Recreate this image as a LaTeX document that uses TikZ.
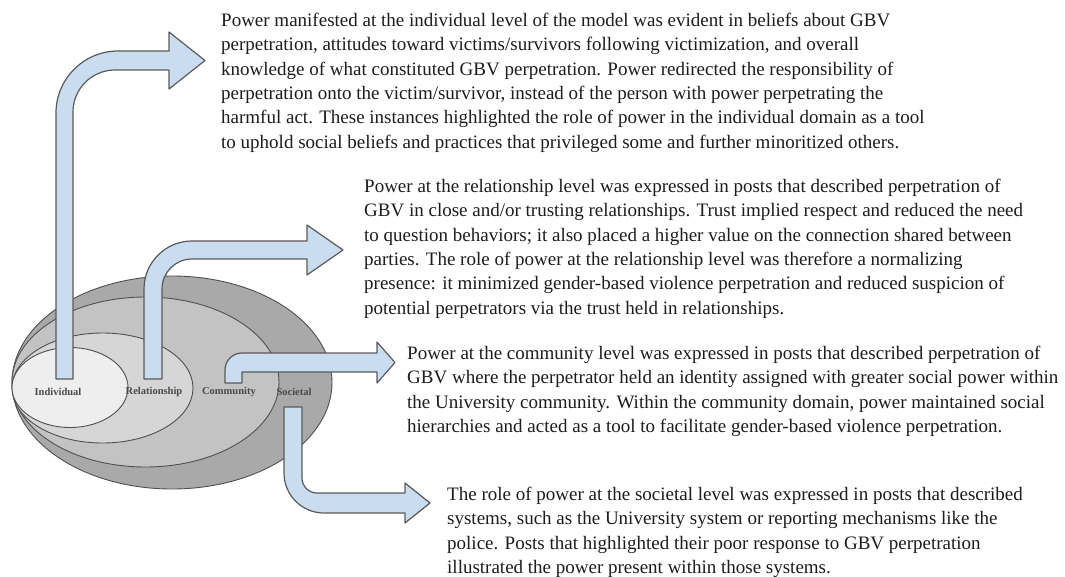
\documentclass[tikz,border=0pt]{standalone}
\usepackage{fontspec}
\setmainfont{Liberation Serif}
\definecolor{arrowblue}{HTML}{C9DCF0}
\definecolor{arrowline}{HTML}{5A5A5A}
\definecolor{ringline}{HTML}{505050}
\definecolor{societalfill}{HTML}{A9A9A9}
\definecolor{communityfill}{HTML}{C3C3C3}
\definecolor{relationfill}{HTML}{D6D6D6}
\definecolor{individualfill}{HTML}{EEEEEE}
\definecolor{labelgrey}{HTML}{4A4A4A}
\definecolor{textblack}{HTML}{1C1C1C}
\begin{document}
\begin{tikzpicture}[x=1pt,y=-1pt,
  ring/.style={draw=ringline, line width=0.9pt},
  blockarrow/.style={fill=arrowblue, draw=arrowline, line width=1.2pt, line join=round},
  levellabel/.style={font=\fontsize{10.5}{12}\selectfont\bfseries, text=labelgrey, inner sep=0pt},
  desc/.style={font=\fontsize{19}{24.3}\selectfont, text=textblack, align=left, inner sep=0pt, anchor=north west}]
\useasboundingbox (0,0) rectangle (1065,577);

% nested ecological levels
\path[ring, fill=societalfill]   (172,382.5) ellipse [x radius=160pt, y radius=106.5pt];
\path[ring, fill=communityfill]  (145.5,382) ellipse [x radius=133.5pt, y radius=85pt];
\path[ring, fill=relationfill]   (102.5,388) ellipse [x radius=90.5pt, y radius=55pt];
\path[ring, fill=individualfill] (70,387.5)  ellipse [x radius=58pt, y radius=40pt];

\node[levellabel] (lind) at (58,392)  {Individual};
\node[levellabel] (lrel) at (154,392) {Relationship};
\node[levellabel] (lcom) at (229,392) {Community};
\node[levellabel] (lsoc) at (294,392) {Societal};

% bent block arrows from each level to its description
\path[blockarrow] (56,379) -- (56,113) .. controls (56,78.8) and (83.8,51) .. (118,51)
  -- (169,51) -- (169,32) -- (205,60.5) -- (169,89) -- (169,70) -- (115,70)
  .. controls (91.8,70) and (73,88.8) .. (73,112) -- (73,379) -- cycle;

\path[blockarrow] (144,379) -- (144,289) .. controls (144,262.5) and (165.5,241) .. (192,241)
  -- (307,241) -- (307,225) -- (343,250) -- (307,275) -- (307,259) -- (192,259)
  .. controls (175.4,259) and (162,272.4) .. (162,289) -- (162,379) -- cycle;

\path[blockarrow] (225,383) -- (225,370) .. controls (225,360.6) and (232.6,353) .. (242,353)
  -- (377,353) -- (377,342) -- (395,362.5) -- (377,383) -- (377,372) -- (242,372)
  -- (242,383) -- cycle;

\path[blockarrow] (284,407) -- (284,473) .. controls (284,495.1) and (301.9,513) .. (324,513)
  -- (405,513) -- (405,523) -- (430,503) -- (405,483) -- (405,493) -- (317,493)
  .. controls (308.7,493) and (302,486.3) .. (302,478) -- (302,407) -- cycle;

% descriptions
\node[desc] (tind) at (221,13) {Power manifested at the individual level of the model was evident in beliefs about GBV\\
perpetration, attitudes toward victims/survivors following victimization, and overall\\
knowledge of what constituted GBV perpetration. Power redirected the responsibility of\\
perpetration onto the victim/survivor, instead of the person with power perpetrating the\\
harmful act. These instances highlighted the role of power in the individual domain as a tool\\
to uphold social beliefs and practices that privileged some and further minoritized others.};

\node[desc] (trel) at (364,179) {Power at the relationship level was expressed in posts that described perpetration of\\
GBV in close and/or trusting relationships. Trust implied respect and reduced the need\\
to question behaviors; it also placed a higher value on the connection shared between\\
parties. The role of power at the relationship level was therefore a normalizing\\
presence: it minimized gender-based violence perpetration and reduced suspicion of\\
potential perpetrators via the trust held in relationships.};

\node[desc] (tcom) at (407,346) {Power at the community level was expressed in posts that described perpetration of\\
GBV where the perpetrator held an identity assigned with greater social power within\\
the University community. Within the community domain, power maintained social\\
hierarchies and acted as a tool to facilitate gender-based violence perpetration.};

\node[desc] (tsoc) at (447,487) {The role of power at the societal level was expressed in posts that described\\
systems, such as the University system or reporting mechanisms like the\\
police. Posts that highlighted their poor response to GBV perpetration\\
illustrated the power present within those systems.};
\end{tikzpicture}
\end{document}
